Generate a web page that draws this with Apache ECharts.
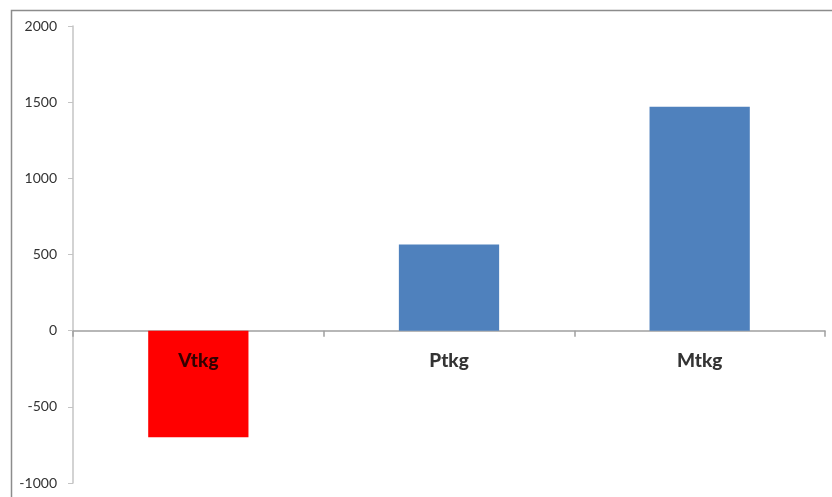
<!DOCTYPE html>
<html>
<head>
<meta charset="utf-8">
<script src="https://cdn.jsdelivr.net/npm/echarts@6/dist/echarts.min.js"></script>
<style>
  html, body { margin: 0; padding: 0; background: #fff; }
  #chart { width: 832px; height: 497px; }
</style>
</head>
<body>
<div id="chart"></div>
<script>
// Categories and their values
const categories = ['Vtkg', 'Ptkg', 'Mtkg'];
const values = [-700, 565, 1470];
const barColors = ['#ff0000', '#4f81bd', '#4f81bd'];

// Value axis range
const yMin = -1000;
const yMax = 2000;
const yStep = 500;

const chart = echarts.init(document.getElementById('chart'), null, { renderer: 'canvas' });

chart.setOption({
  backgroundColor: '#ffffff',
  animation: false,
  graphic: [{
    type: 'rect',
    left: 9,
    top: 8,
    shape: { width: 900, height: 600 },
    style: { fill: 'none', stroke: '#8c8c8c', lineWidth: 1.5 },
    silent: true,
    z: 0
  }],
  grid: { left: 73, right: 7, top: 26, bottom: 14, containLabel: false, outerBoundsMode: 'none' },
  xAxis: {
    type: 'category',
    data: categories,
    boundaryGap: true,
    axisLine: { onZero: true, lineStyle: { color: '#a0a0a0', width: 1.5 } },
    axisTick: { show: true, alignWithLabel: false, length: 6, lineStyle: { color: '#a0a0a0', width: 1.5 } },
    axisLabel: { show: false },
    splitLine: { show: false }
  },
  yAxis: {
    type: 'value',
    min: yMin,
    max: yMax,
    interval: yStep,
    axisLine: { show: true, lineStyle: { color: '#c4c4c4', width: 1.5 } },
    axisTick: { show: true, length: 5, lineStyle: { color: '#c4c4c4', width: 1 } },
    axisLabel: {
      margin: 16,
      color: '#333333',
      fontFamily: 'Lato, "Open Sans", sans-serif',
      fontSize: 14,
      formatter: v => String(v)
    },
    splitLine: { show: false }
  },
  series: [{
    type: 'bar',
    barWidth: '40%',
    data: values.map((v, i) => ({ value: v, itemStyle: { color: barColors[i] } })),
    z: 2
  }, {
    // category names placed just under the zero line, drawn above the bars
    type: 'scatter',
    symbolSize: 0,
    silent: true,
    z: 5,
    data: categories.map((c, i) => [i, 0]),
    label: {
      show: true,
      position: 'bottom',
      distance: 21,
      color: '#000000',
      fontFamily: 'Lato, "Open Sans", sans-serif',
      fontWeight: 900,
      fontSize: 19,
      formatter: p => categories[p.dataIndex]
    }
  }]
});
</script>
</body>
</html>
